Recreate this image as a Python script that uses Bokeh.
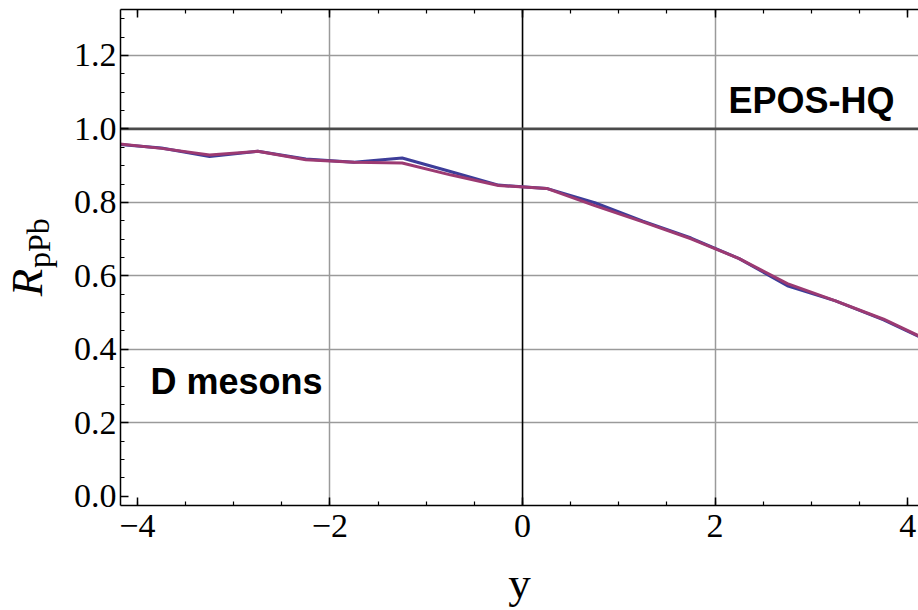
from bokeh.plotting import figure
from bokeh.layouts import row
from bokeh.models import (Range1d, LinearAxis, SingleIntervalTicker, FixedTicker,
                          PrintfTickFormatter, CustomJSTickFormatter, Span, Label)
from bokeh.core.properties import value
from bokeh.embed import file_html
from bokeh.resources import INLINE

# ---- data ----
rapidity = [-4.25, -3.75, -3.25, -2.75, -2.25, -1.75, -1.25, -0.75, -0.25,
            0.25, 0.75, 1.25, 1.75, 2.25, 2.75, 3.25, 3.75, 4.25]
r_blue = [0.959, 0.948, 0.925, 0.939, 0.918, 0.909, 0.921, 0.884, 0.847,
          0.838, 0.799, 0.749, 0.703, 0.647, 0.573, 0.532, 0.480, 0.418]
r_red = [0.961, 0.947, 0.929, 0.939, 0.916, 0.909, 0.907, 0.875, 0.846,
         0.838, 0.791, 0.747, 0.701, 0.647, 0.579, 0.532, 0.482, 0.420]
x_grid = [-2, 2]
y_grid = [0.2, 0.4, 0.6, 0.8, 1.2]
ref_line = 1.0
model_label = "EPOS-HQ"
species_label = "D mesons"
y_title_main = "R"
y_title_sub = "pPb"
x_title = "y"

SERIF = "Liberation Serif"
SANS = "Liberation Sans"
H = 610
LEFT_W = 62

yr = Range1d(-0.025, 1.325)

# ---- main plot ----
p = figure(width=918 - LEFT_W, height=H,
           x_range=Range1d(-4.175, 4.112), y_range=yr,
           output_backend="svg", toolbar_location=None,
           min_border_left=120 - LEFT_W, min_border_right=0,
           min_border_top=9, min_border_bottom=H - 507)
p.outline_line_color = None
p.background_fill_color = "white"
p.border_fill_color = "white"

# grids
p.xgrid.ticker = FixedTicker(ticks=x_grid)
p.ygrid.ticker = FixedTicker(ticks=y_grid)
for g in (p.xgrid[0], p.ygrid[0]):
    g.grid_line_color = "#9a9a9a"
    g.grid_line_width = 1.5

p.add_layout(Span(location=0, dimension="height", line_color="black",
                  line_width=1.6, level="underlay"))
p.add_layout(Span(location=ref_line, dimension="width", line_color="#4a4a4a",
                  line_width=2.6, level="underlay"))

# axes
xfmt = CustomJSTickFormatter(code="""
    const v = Math.round(tick);
    return v < 0 ? "\\u2212" + Math.abs(v) : String(v);
""")

def style_axis(ax):
    ax.axis_line_color = "black"
    ax.axis_line_width = 1.5
    ax.major_tick_line_color = "black"
    ax.major_tick_line_width = 1.5
    ax.minor_tick_line_color = "black"
    ax.minor_tick_line_width = 1.2
    ax.major_tick_in = 8
    ax.major_tick_out = 0
    ax.minor_tick_in = 4
    ax.minor_tick_out = 0
    ax.major_label_text_font = SERIF
    ax.major_label_text_font_size = "34px"
    ax.major_label_text_color = "black"

xa = p.xaxis[0]
xa.ticker = SingleIntervalTicker(interval=2, num_minor_ticks=4)
xa.formatter = xfmt
style_axis(xa)
xa.major_label_standoff = 9
xa.axis_label = x_title
xa.axis_label_text_font = SERIF
xa.axis_label_text_font_style = "normal"
xa.axis_label_text_font_size = "45px"
xa.axis_label_text_color = "black"
xa.axis_label_standoff = 18

ya = p.yaxis[0]
ya.ticker = SingleIntervalTicker(interval=0.2, num_minor_ticks=4)
ya.formatter = PrintfTickFormatter(format="%.1f")
style_axis(ya)
ya.major_label_standoff = 4

top = LinearAxis(ticker=SingleIntervalTicker(interval=2, num_minor_ticks=4),
                 formatter=CustomJSTickFormatter(code="return '';"))
style_axis(top)
top.major_label_standoff = 0
p.add_layout(top, "above")

# curves
p.line(rapidity, r_blue, line_color="#3d3d99", line_width=3)
p.line(rapidity, r_red, line_color="#9c3a72", line_width=3)

# texts
p.add_layout(Label(x=2.139, y=1.077, text=model_label, text_font=SANS,
                   text_font_style="bold", text_font_size="36px",
                   text_color="black", text_align="left",
                   text_baseline="alphabetic"))
p.add_layout(Label(x=-3.863, y=0.313, text=species_label, text_font=SANS,
                   text_font_style="bold", text_font_size="36px",
                   text_color="black", text_align="left",
                   text_baseline="alphabetic"))

# ---- narrow strip holding the rotated y-axis title (shares the y scale) ----
lab = figure(width=LEFT_W, height=H, x_range=Range1d(0, LEFT_W),
             y_range=yr, output_backend="svg",
             toolbar_location=None, min_border=0,
             min_border_top=9, min_border_bottom=H - 507,
             x_axis_type=None, y_axis_type=None)
lab.outline_line_color = None
lab.grid.visible = False
lab.text(x=[26], y=[0.582], text=[y_title_main], angle=1.5708,
         text_font=value(SERIF), text_font_style="italic",
         text_font_size="45px", text_color="black",
         text_align="center", text_baseline="alphabetic")
lab.text(x=[38], y=[0.689], text=[y_title_sub], angle=1.5708,
         text_font=value(SERIF), text_font_size="32px", text_color="black",
         text_align="center", text_baseline="alphabetic")

layout = row(lab, p, spacing=0)
open("out.html", "w").write(file_html(layout, INLINE))
